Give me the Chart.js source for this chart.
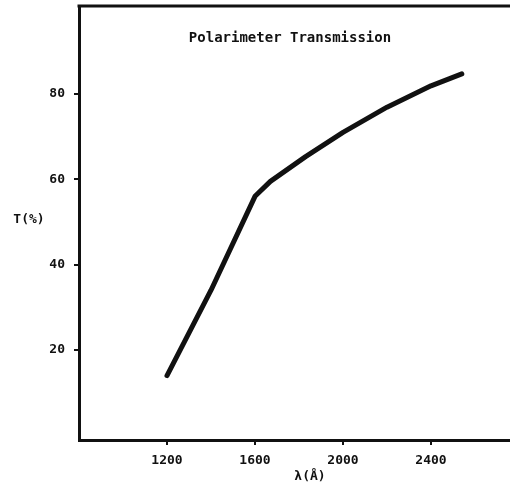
<!DOCTYPE html>
<html>
<head>
<meta charset="utf-8">
<script src="https://cdn.jsdelivr.net/npm/chart.js@4.4.1/dist/chart.umd.min.js"></script>
<style>
  html, body { margin: 0; padding: 0; background: #fff; overflow: hidden; }
  #wrap { width: 510px; height: 492px; overflow: hidden; }
</style>
</head>
<body>
<div id="wrap"><canvas id="myChart" width="545" height="492"></canvas></div>
<script>
// data
const wavelengths = [1200, 1400, 1600, 1670, 1830, 2000, 2200, 2400, 2540]
const transmission = [14, 34, 56, 59.5, 65.3, 71, 76.9, 81.9, 84.7]
const xTicks = [1200, 1600, 2000, 2400]
const yTicks = [20, 40, 60, 80]
const chartTitle = 'Polarimeter Transmission'
const xTitle = 'λ(Å)'
const yTitle = 'T(%)'

;(() => {
  'use strict'

  const ink = '#111'
  const monoBold = { family: "'DejaVu Sans Mono', 'Liberation Mono', monospace", weight: 'bold', size: 13 }

  // top frame line + texts drawn inside / beside the plot
  const extras = {
    id: 'extras',
    afterDraw (chart) {
      const { ctx, chartArea } = chart
      ctx.save()
      ctx.strokeStyle = ink
      ctx.lineWidth = 3
      ctx.beginPath()
      ctx.moveTo(chartArea.left - 1.5, chartArea.top)
      ctx.lineTo(chartArea.right, chartArea.top)
      ctx.stroke()
      ctx.fillStyle = ink
      ctx.textAlign = 'center'
      ctx.textBaseline = 'middle'
      ctx.font = "bold 14px 'DejaVu Sans Mono', monospace"
      ctx.fillText(chartTitle, 290, 38)
      ctx.font = "bold 13px 'DejaVu Sans Mono', monospace"
      ctx.fillText(yTitle, 29, (chartArea.top + chartArea.bottom) / 2 - 3)
      ctx.restore()
    }
  }

  const ctx = document.getElementById('myChart')

  // eslint-disable-next-line no-unused-vars
  const myChart = new Chart(ctx, {
    type: 'scatter',
    data: {
      datasets: [{
        data: wavelengths.map((w, i) => ({ x: w, y: transmission[i] })),
        showLine: true,
        borderColor: ink,
        borderWidth: 5,
        borderCapStyle: 'round',
        borderJoinStyle: 'round',
        pointRadius: 0,
        pointHoverRadius: 0
      }]
    },
    options: {
      responsive: false,
      animation: false,
      devicePixelRatio: 1,
      layout: { padding: { left: 0, top: 6, right: 4, bottom: 0 } },
      scales: {
        x: {
          type: 'linear',
          min: 800,
          max: 2900,
          afterFit: (scale) => { scale.height = 52; scale.paddingLeft = 0; scale.paddingRight = 0 },
          afterBuildTicks: (scale) => { scale.ticks = xTicks.map(v => ({ value: v })) },
          border: { color: ink, width: 3 },
          grid: { drawOnChartArea: false, drawTicks: true, tickLength: 5, color: ink, lineWidth: 2 },
          ticks: { color: ink, font: monoBold, padding: 8, maxRotation: 0, callback: v => v },
          title: { display: true, text: xTitle, color: ink, font: monoBold, padding: { top: 0, bottom: 8 } }
        },
        y: {
          min: -1.1,
          max: 100.6,
          afterFit: (scale) => { scale.width = 79; scale.paddingTop = 0; scale.paddingBottom = 0 },
          afterBuildTicks: (scale) => { scale.ticks = yTicks.map(v => ({ value: v })) },
          border: { color: ink, width: 3 },
          grid: { drawOnChartArea: false, drawTicks: true, tickLength: 5, color: ink, lineWidth: 2 },
          ticks: { color: ink, font: monoBold, padding: 9 }
        }
      },
      plugins: {
        legend: { display: false },
        tooltip: { enabled: false }
      }
    },
    plugins: [extras]
  })
})()
</script>
</body>
</html>
